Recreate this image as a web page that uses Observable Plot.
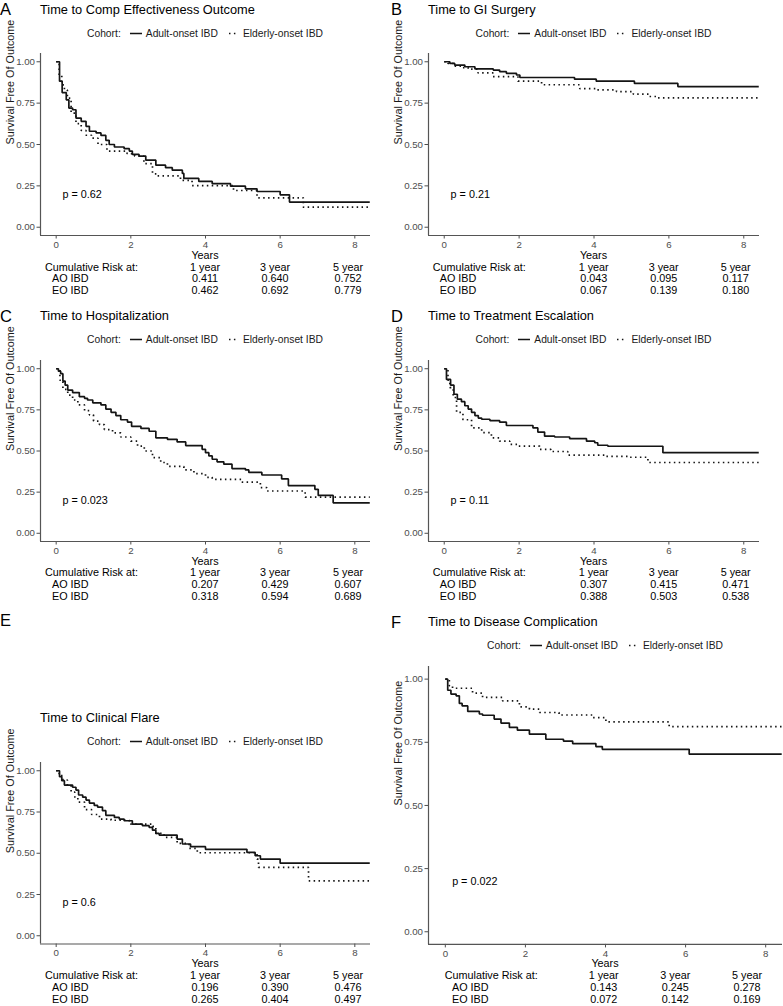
<!DOCTYPE html>
<html>
<head>
<meta charset="utf-8">
<script src="https://cdn.jsdelivr.net/npm/d3@7"></script>
<script src="https://cdn.jsdelivr.net/npm/@observablehq/plot@0.6"></script>
<style>
  body { margin: 0; background: #fff; }
  #root { position: relative; width: 783px; height: 1006px; overflow: hidden; background: #fff;
          font-family: "Liberation Sans", Arial, Helvetica, sans-serif; }
  .t { position: absolute; white-space: nowrap; line-height: 1.15; }
  .leg { position: absolute; display: flex; align-items: center; white-space: nowrap; font-size: 10.3px; color: #1a1a1a; transform: translate(-50%, -50%); }
  .chart { position: absolute; }
</style>
</head>
<body>
<div id="root"></div>
<script>
// ---------------- data ----------------
const panelLetters = ["A", "B", "C", "D", "E", "F"];
const panelTitles = [
  "Time to Comp Effectiveness Outcome",
  "Time to GI Surgery",
  "Time to Hospitalization",
  "Time to Treatment Escalation",
  "Time to Clinical Flare",
  "Time to Disease Complication"
];
const cohorts = ["Adult-onset IBD", "Elderly-onset IBD"];
const riskRowLabels = ["AO IBD", "EO IBD"];
const riskColLabels = ["1 year", "3 year", "5 year"];
const pValues = ["0.62", "0.21", "0.023", "0.11", "0.6", "0.022"];
const xTicks = [0, 2, 4, 6, 8];
const yTicks = [0, 0.25, 0.5, 0.75, 1];

// Panel A
const timeA_AO = [0, 0.09, 0.16, 0.27, 0.34, 0.44, 0.53, 0.67, 0.8, 0.89, 1.07, 1.2, 1.33, 1.42, 1.56, 1.82, 1.96, 2.04, 2.22, 2.4, 2.67, 2.93, 3.11, 3.38, 3.42, 3.82, 4.18, 4.67, 5.07, 5.38, 6.0, 6.25, 8.4];
const survA_AO = [1, 0.883, 0.814, 0.77, 0.72, 0.71, 0.66, 0.64, 0.61, 0.58, 0.57, 0.555, 0.525, 0.5, 0.485, 0.475, 0.46, 0.44, 0.43, 0.405, 0.375, 0.36, 0.345, 0.325, 0.295, 0.277, 0.263, 0.248, 0.232, 0.216, 0.196, 0.152, 0.152];
const timeA_EO = [0, 0.08, 0.15, 0.22, 0.3, 0.4, 0.53, 0.67, 0.8, 0.95, 1.12, 1.36, 1.9, 2.1, 2.35, 2.58, 2.7, 3.33, 3.64, 4.75, 5.38, 6.62, 8.4];
const survA_EO = [1, 0.92, 0.86, 0.83, 0.78, 0.69, 0.626, 0.585, 0.556, 0.538, 0.5, 0.46, 0.444, 0.43, 0.384, 0.323, 0.31, 0.283, 0.252, 0.222, 0.178, 0.121, 0.121];
const riskA_AO = [0.411, 0.640, 0.752];
const riskA_EO = [0.462, 0.692, 0.779];

// Panel B
const timeB_AO = [0, 0.15, 0.28, 0.55, 0.82, 1.31, 1.48, 1.66, 1.93, 2.02, 3.48, 4.06, 5.08, 6.24, 8.4];
const survB_AO = [1, 0.99, 0.98, 0.97, 0.957, 0.95, 0.94, 0.93, 0.92, 0.905, 0.895, 0.883, 0.869, 0.85, 0.85];
const timeB_EO = [0, 0.1, 0.24, 0.45, 0.64, 0.9, 1.3, 1.97, 2.6, 3.62, 4.06, 4.6, 5.05, 5.48, 5.66, 8.4];
const survB_EO = [1, 0.99, 0.974, 0.965, 0.955, 0.933, 0.91, 0.883, 0.861, 0.838, 0.83, 0.82, 0.804, 0.79, 0.782, 0.782];
const riskB_AO = [0.043, 0.095, 0.117];
const riskB_EO = [0.067, 0.139, 0.180];

// Panel C
const timeC_AO = [0, 0.06, 0.12, 0.18, 0.24, 0.31, 0.44, 0.62, 0.76, 0.84, 0.98, 1.2, 1.33, 1.47, 1.6, 1.73, 1.91, 2.02, 2.27, 2.49, 2.67, 2.98, 3.24, 3.47, 3.91, 4.0, 4.09, 4.18, 4.31, 4.49, 4.71, 5.07, 5.16, 5.51, 6.04, 6.22, 6.93, 7.02, 7.42, 8.4];
const survC_AO = [1, 0.985, 0.97, 0.925, 0.9, 0.87, 0.855, 0.83, 0.82, 0.81, 0.793, 0.78, 0.755, 0.735, 0.715, 0.69, 0.676, 0.65, 0.637, 0.62, 0.58, 0.571, 0.555, 0.533, 0.51, 0.49, 0.47, 0.45, 0.434, 0.42, 0.393, 0.385, 0.37, 0.354, 0.33, 0.29, 0.267, 0.23, 0.185, 0.185];
const timeC_EO = [0, 0.1, 0.18, 0.31, 0.44, 0.58, 0.76, 0.89, 1.0, 1.16, 1.29, 1.51, 1.73, 2.0, 2.18, 2.36, 2.58, 2.8, 2.98, 3.42, 3.69, 4.0, 4.18, 4.98, 5.47, 5.64, 6.67, 8.4];
const survC_EO = [1, 0.93, 0.875, 0.84, 0.81, 0.78, 0.745, 0.72, 0.682, 0.66, 0.63, 0.61, 0.585, 0.56, 0.53, 0.5, 0.46, 0.43, 0.406, 0.385, 0.362, 0.34, 0.328, 0.311, 0.278, 0.257, 0.22, 0.22];
const riskC_AO = [0.207, 0.429, 0.607];
const riskC_EO = [0.318, 0.594, 0.689];

// Panel D
const timeD_AO = [0, 0.06, 0.17, 0.26, 0.35, 0.46, 0.55, 0.64, 0.73, 0.82, 0.91, 1.0, 1.22, 1.48, 1.66, 2.37, 2.5, 2.68, 2.95, 3.35, 3.8, 4.02, 4.1, 4.37, 5.84, 8.4];
const survD_AO = [1, 0.935, 0.9, 0.845, 0.815, 0.8, 0.775, 0.755, 0.735, 0.715, 0.7, 0.693, 0.685, 0.675, 0.655, 0.64, 0.615, 0.59, 0.585, 0.575, 0.56, 0.55, 0.535, 0.529, 0.49, 0.49];
const timeD_EO = [0, 0.1, 0.15, 0.24, 0.33, 0.5, 0.73, 1.0, 1.26, 1.48, 1.75, 1.97, 2.55, 2.85, 3.3, 4.33, 4.95, 5.44, 8.4];
const survD_EO = [1, 0.93, 0.885, 0.825, 0.735, 0.69, 0.64, 0.612, 0.58, 0.56, 0.54, 0.53, 0.51, 0.497, 0.475, 0.467, 0.462, 0.43, 0.43];
const riskD_AO = [0.307, 0.415, 0.471];
const riskD_EO = [0.388, 0.503, 0.538];

// Panel E
const timeE_AO = [0, 0.09, 0.15, 0.22, 0.44, 0.53, 0.6, 0.71, 0.8, 0.89, 1.02, 1.11, 1.24, 1.33, 1.56, 1.69, 1.82, 2.04, 2.31, 2.49, 2.58, 2.67, 2.76, 3.24, 3.38, 3.6, 4.0, 5.11, 5.33, 5.47, 6.0, 8.4];
const survE_AO = [1, 0.964, 0.94, 0.913, 0.9, 0.883, 0.853, 0.84, 0.822, 0.804, 0.79, 0.78, 0.758, 0.73, 0.717, 0.707, 0.697, 0.677, 0.667, 0.657, 0.64, 0.62, 0.61, 0.586, 0.556, 0.54, 0.524, 0.505, 0.485, 0.465, 0.44, 0.44];
const timeE_EO = [0, 0.08, 0.18, 0.3, 0.4, 0.5, 0.58, 0.76, 0.95, 1.16, 1.47, 1.96, 2.58, 2.67, 2.89, 3.24, 3.56, 3.78, 5.38, 5.42, 6.76, 8.4];
const survE_EO = [1, 0.97, 0.944, 0.91, 0.87, 0.84, 0.81, 0.764, 0.735, 0.707, 0.7, 0.677, 0.663, 0.62, 0.596, 0.56, 0.53, 0.503, 0.465, 0.414, 0.333, 0.333];
const riskE_AO = [0.196, 0.390, 0.476];
const riskE_EO = [0.265, 0.404, 0.497];

// Panel F
const timeF_AO = [0, 0.06, 0.14, 0.27, 0.35, 0.42, 0.56, 0.85, 0.93, 1.22, 1.39, 1.6, 1.8, 2.1, 2.51, 2.95, 3.18, 3.76, 3.92, 6.09, 8.4];
const survF_AO = [1, 0.956, 0.941, 0.934, 0.904, 0.894, 0.872, 0.862, 0.857, 0.842, 0.826, 0.809, 0.798, 0.782, 0.762, 0.755, 0.745, 0.733, 0.722, 0.703, 0.703];
const timeF_EO = [0, 0.1, 0.18, 0.68, 0.93, 1.43, 1.85, 2.1, 2.35, 2.84, 3.68, 4.01, 5.59, 8.4];
const survF_EO = [1, 0.974, 0.964, 0.945, 0.928, 0.914, 0.89, 0.881, 0.868, 0.858, 0.848, 0.831, 0.812, 0.812];
const riskF_AO = [0.143, 0.245, 0.278];
const riskF_EO = [0.072, 0.142, 0.169];

// ---------------- assemble ----------------
const zipKM = (t, s) => t.map((d, i) => ({t: d, s: s[i]}));
const panels = [
  {ao: zipKM(timeA_AO, survA_AO), eo: zipKM(timeA_EO, survA_EO), rAO: riskA_AO, rEO: riskA_EO},
  {ao: zipKM(timeB_AO, survB_AO), eo: zipKM(timeB_EO, survB_EO), rAO: riskB_AO, rEO: riskB_EO},
  {ao: zipKM(timeC_AO, survC_AO), eo: zipKM(timeC_EO, survC_EO), rAO: riskC_AO, rEO: riskC_EO},
  {ao: zipKM(timeD_AO, survD_AO), eo: zipKM(timeD_EO, survD_EO), rAO: riskD_AO, rEO: riskD_EO},
  {ao: zipKM(timeE_AO, survE_AO), eo: zipKM(timeE_EO, survE_EO), rAO: riskE_AO, rEO: riskE_EO},
  {ao: zipKM(timeF_AO, survF_AO), eo: zipKM(timeF_EO, survF_EO), rAO: riskF_AO, rEO: riskF_EO}
];

// ---------------- layout (page pixels) ----------------
const colsAC = [205, 275, 348];
const colsBD = [593.7, 663.7, 735.7];
const geom = [
  {colX: 0,   colW: 392, letterX: 0,   letterY: 9,   titleY: 10,  legendY: 33,  fL: 40,  fR: 370, fT: 53,    fB: 235,   yearsY: 255,   riskY: [266.7, 278.4, 290.1], tLabel: 45,    tRow: 52,    tCols: colsAC},
  {colX: 392, colW: 391, letterX: 391, letterY: 9,   titleY: 10,  legendY: 33,  fL: 428, fR: 759, fT: 53,    fB: 235,   yearsY: 255,   riskY: [266.7, 278.4, 290.1], tLabel: 432.7, tRow: 439.7, tCols: colsBD},
  {colX: 0,   colW: 392, letterX: 0,   letterY: 316, titleY: 316, legendY: 339, fL: 40,  fR: 370, fT: 359.5, fB: 540.5, yearsY: 560.5, riskY: [572.3, 584.1, 595.8], tLabel: 45,    tRow: 52,    tCols: colsAC},
  {colX: 392, colW: 391, letterX: 391, letterY: 316, titleY: 316, legendY: 339, fL: 428, fR: 759, fT: 359.5, fB: 540.5, yearsY: 560.5, riskY: [572.3, 584.1, 595.8], tLabel: 432.7, tRow: 439.7, tCols: colsBD},
  {colX: 0,   colW: 392, letterX: 0,   letterY: 620, titleY: 718, legendY: 741, fL: 40,  fR: 370, fT: 761.75, fB: 943.25, yearsY: 963, riskY: [975, 987, 999], tLabel: 45,    tRow: 52,    tCols: colsAC},
  {colX: 392, colW: 391, letterX: 391, letterY: 622, titleY: 622, legendY: 645, fL: 428, fR: 782, fT: 665.7, fB: 943.6, yearsY: 963,   riskY: [975, 987, 999], tLabel: 444.7, tRow: 452,   tCols: [603.7, 675.3, 747]}
];

const FONT = '"Liberation Sans", Arial, Helvetica, sans-serif';
const root = document.getElementById("root");
const fmt3 = d3.format(".3f");
const INK = "#141414";
const DASH = "1.5,3.4";
const TXT = 10.8;

function txt(str, x, y, size, anchor = "start", color = "#000") {
  const d = document.createElement("div");
  d.className = "t";
  d.textContent = str;
  d.style.left = x + "px";
  d.style.top = y + "px";
  d.style.fontSize = size + "px";
  d.style.color = color;
  d.style.transform = `translate(${anchor === "middle" ? "-50%" : anchor === "end" ? "-100%" : "0"}, -50%)`;
  root.appendChild(d);
  return d;
}

function legend(cx, cy) {
  const d = document.createElement("div");
  d.className = "leg";
  d.style.left = cx + "px";
  d.style.top = cy + "px";
  d.innerHTML =
    `<span style="margin-right:8px">Cohort:</span>` +
    `<svg width="14" height="8" style="margin-right:3px"><line x1="1" x2="13" y1="4" y2="4" stroke="${INK}" stroke-width="1.6"/></svg>` +
    `<span style="margin-right:9px">${cohorts[0]}</span>` +
    `<svg width="12" height="8" style="margin-right:4px"><line x1="2" x2="10" y1="4" y2="4" stroke="${INK}" stroke-width="1.6" stroke-dasharray="${DASH}"/></svg>` +
    `<span>${cohorts[1]}</span>`;
  root.appendChild(d);
}

panels.forEach((p, i) => {
  const g = geom[i];
  // letter and title
  txt(panelLetters[i], g.letterX, g.letterY, 16.5, "start", "#000");
  txt(panelTitles[i], g.fL, g.titleY, 12.8, "start", "#000");
  legend((g.fL + g.fR) / 2, g.legendY);

  // chart
  const top = g.fT - 6;
  const bottomPad = 20;
  const chart = Plot.plot({
    width: g.colW,
    height: (g.fB - g.fT) + 6 + bottomPad,
    marginLeft: g.fL - g.colX,
    marginRight: g.colX + g.colW - g.fR,
    marginTop: 6,
    marginBottom: bottomPad,
    style: {fontFamily: FONT, fontSize: "9.5px", background: "transparent", overflow: "visible"},
    x: {domain: [-0.42, 8.42]},
    y: {domain: [-0.05, 1.05]},
    marks: [
      Plot.axisX({ticks: xTicks, tickSize: 3.5, tickPadding: 2, color: "#4d4d4d", label: null, fontSize: 9.7}),
      Plot.axisY({ticks: yTicks, tickSize: 3.5, tickPadding: 2, tickFormat: d3.format(".2f"), color: "#4d4d4d", label: null, fontSize: 9.7}),
      Plot.ruleX([-0.42], {stroke: "#555", strokeWidth: 1.2}),
      Plot.ruleY([-0.05], {stroke: "#555", strokeWidth: 1.2}),
      Plot.line(p.ao, {x: "t", y: "s", curve: "step-after", stroke: INK, strokeWidth: 1.7, strokeLinecap: "butt", strokeLinejoin: "miter"}),
      Plot.line(p.eo, {x: "t", y: "s", curve: "step-after", stroke: INK, strokeWidth: 1.7, strokeDasharray: DASH, strokeLinecap: "butt", strokeLinejoin: "miter"}),
      Plot.text([pValues[i]], {x: 0.17, y: 0.2, text: d => "p = " + d, textAnchor: "start", fontSize: 10.8, fill: "#000"}),
      Plot.text(["Survival Free Of Outcome"], {frameAnchor: "left", dx: -30, rotate: -90, fontSize: 10.8, fill: "#1a1a1a"})
    ]
  });
  chart.classList.add("chart");
  chart.style.left = g.colX + "px";
  chart.style.top = top + "px";
  root.appendChild(chart);

  // x label and cumulative risk table
  txt("Years", (g.fL + g.fR) / 2, g.yearsY, TXT, "middle", "#000");
  txt("Cumulative Risk at:", g.tLabel, g.riskY[0], TXT, "start", "#000");
  riskColLabels.forEach((c, j) => txt(c, g.tCols[j], g.riskY[0], TXT, "middle", "#000"));
  txt(riskRowLabels[0], g.tRow, g.riskY[1], TXT, "start", "#000");
  txt(riskRowLabels[1], g.tRow, g.riskY[2], TXT, "start", "#000");
  p.rAO.forEach((v, j) => txt(fmt3(v), g.tCols[j], g.riskY[1], TXT, "middle", "#000"));
  p.rEO.forEach((v, j) => txt(fmt3(v), g.tCols[j], g.riskY[2], TXT, "middle", "#000"));
});
</script>
</body>
</html>
